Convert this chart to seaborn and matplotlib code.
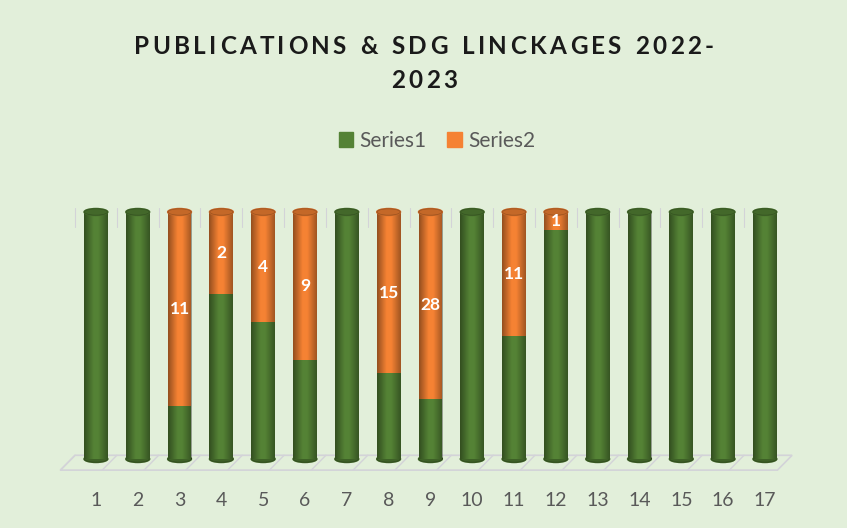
import numpy as np
import pandas as pd
import matplotlib
matplotlib.use("Agg")
import matplotlib.pyplot as plt
from matplotlib.patches import Ellipse, Polygon
import seaborn as sns

# data
categories = [str(i) for i in range(1, 18)]
series1 = [5, 5, 3, 4, 5, 6, 5, 8, 9, 5, 11, 13, 5, 5, 5, 5, 5]
series2 = [0, 0, 11, 2, 4, 9, 0, 15, 28, 0, 11, 1, 0, 0, 0, 0, 0]
title_lines = ["PUBLICATIONS & SDG LINCKAGES 2022-", "2023"]

green = "#548235"
orange = "#F58233"
bg = "#E2EFDA"

df = pd.DataFrame({"cat": categories, "s1": series1, "s2": series2})
tot = df["s1"] + df["s2"]
df["p1"] = df["s1"] / tot * 100
df["total"] = 100.0

sns.set_theme(style="white")
plt.rcParams["font.family"] = ["Lato", "DejaVu Sans"]

fig = plt.figure(figsize=(8.47, 5.28), dpi=100, facecolor=bg)
ax = fig.add_axes([70 / 847, (528 - 459) / 528, 720 / 847, 247 / 528])
ax.set_facecolor(bg)

bw = 0.57
# 100% stacked: orange full bar underneath, green share on top of it
sns.barplot(df, x="cat", y="total", color=orange, width=bw, saturation=1, ax=ax, zorder=3,
            linewidth=0, edgecolor="none")
sns.barplot(df, x="cat", y="p1", color=green, width=bw, saturation=1, ax=ax, zorder=4,
            linewidth=0, edgecolor="none")

px_per_unit = 247 / 100
eh = 7 / px_per_unit  # ellipse height in data units

# cylinder shading, caps and bottoms
xs = np.linspace(0, 1, 80)
alpha = np.clip(0.4 * (1 - xs / 0.4), 0, None) + np.clip(0.35 * (xs - 0.6) / 0.4, 0, None)
shade = np.zeros((1, 80, 4))
shade[0, :, 3] = alpha
for i in range(len(categories)):
    x0 = i - bw / 2
    ax.imshow(shade, extent=[x0, x0 + bw, 0, 100], aspect="auto", zorder=5,
              interpolation="bilinear")
    top_col = orange if df["s2"][i] > 0 else green
    ax.add_patch(Ellipse((i, 0), bw, eh, color=green, zorder=2, clip_on=False))
    ax.add_patch(Ellipse((i, 0), bw, eh, color="black", alpha=0.25, zorder=2.5, clip_on=False))
    ax.add_patch(Ellipse((i, 100), bw, eh, color=top_col, zorder=6, clip_on=False))
    ax.add_patch(Ellipse((i, 100), bw, eh, color="black", alpha=0.2, zorder=6.5, clip_on=False))
    if df["s2"][i] > 0:
        ymid = (df["p1"][i] + 100) / 2
        ax.text(i, ymid, str(df["s2"][i]), color="white", fontsize=12.5, fontweight="bold",
                ha="center", va="center", zorder=7)

# floor of the 3d chart
n = len(categories)
floor = Polygon([[-0.85, -4.5], [n - 1 + 0.3, -4.5], [n - 1 + 0.65, 1.5], [-0.5, 1.5]],
                closed=True, facecolor="none", edgecolor="#d3d3d8", lw=1.2, zorder=1, clip_on=False)
ax.add_patch(floor)
for i in range(n):
    ax.plot([i - 0.5 - 0.35, i - 0.5], [-4.5, 1.5], color="#d3d3d8", lw=1, zorder=1, clip_on=False)
    ax.plot([i - 0.5, i - 0.5], [94, 101.5], color="#d3d3d8", lw=0.8, zorder=1, clip_on=False)

ax.set_xlim(-0.62, 16.6)
ax.set_ylim(0, 100)
ax.set_yticks([])
ax.set_xlabel("")
ax.set_ylabel("")
for s in ax.spines.values():
    s.set_visible(False)
ax.tick_params(axis="x", length=0, pad=24, labelsize=14, labelcolor="#595959")


# title with wide letter spacing, like the original
def tracked_text(line, y_px, size, track_px):
    r = fig.canvas.get_renderer()
    widths = []
    for ch in line:
        t = fig.text(0, 0, ch if ch != " " else "n", fontsize=size, fontweight="bold")
        w = t.get_window_extent(r).width
        if ch == " ":
            w *= 0.55
        widths.append(w)
        t.remove()
    total = sum(widths) + track_px * (len(line) - 1)
    x = 424 - total / 2
    for ch, w in zip(line, widths):
        fig.text(x / 847, 1 - y_px / 528, ch, fontsize=size, fontweight="bold",
                 color="#1a1a1a", ha="left", va="center")
        x += w + track_px


tracked_text(title_lines[0], 47, 17.5, 3.3)
tracked_text(title_lines[1], 80, 17.5, 3.3)

handles = [plt.Rectangle((0, 0), 1, 1, color=green), plt.Rectangle((0, 0), 1, 1, color=orange)]
fig.legend(handles, ["Series1", "Series2"], loc="center", bbox_to_anchor=(437 / 847, 1 - 141 / 528),
           ncol=2, frameon=False, fontsize=15, handlelength=0.7, handleheight=0.7,
           handletextpad=0.3, columnspacing=1.0, labelcolor="#595959")

fig.savefig("out.png", dpi=100, facecolor=bg)
